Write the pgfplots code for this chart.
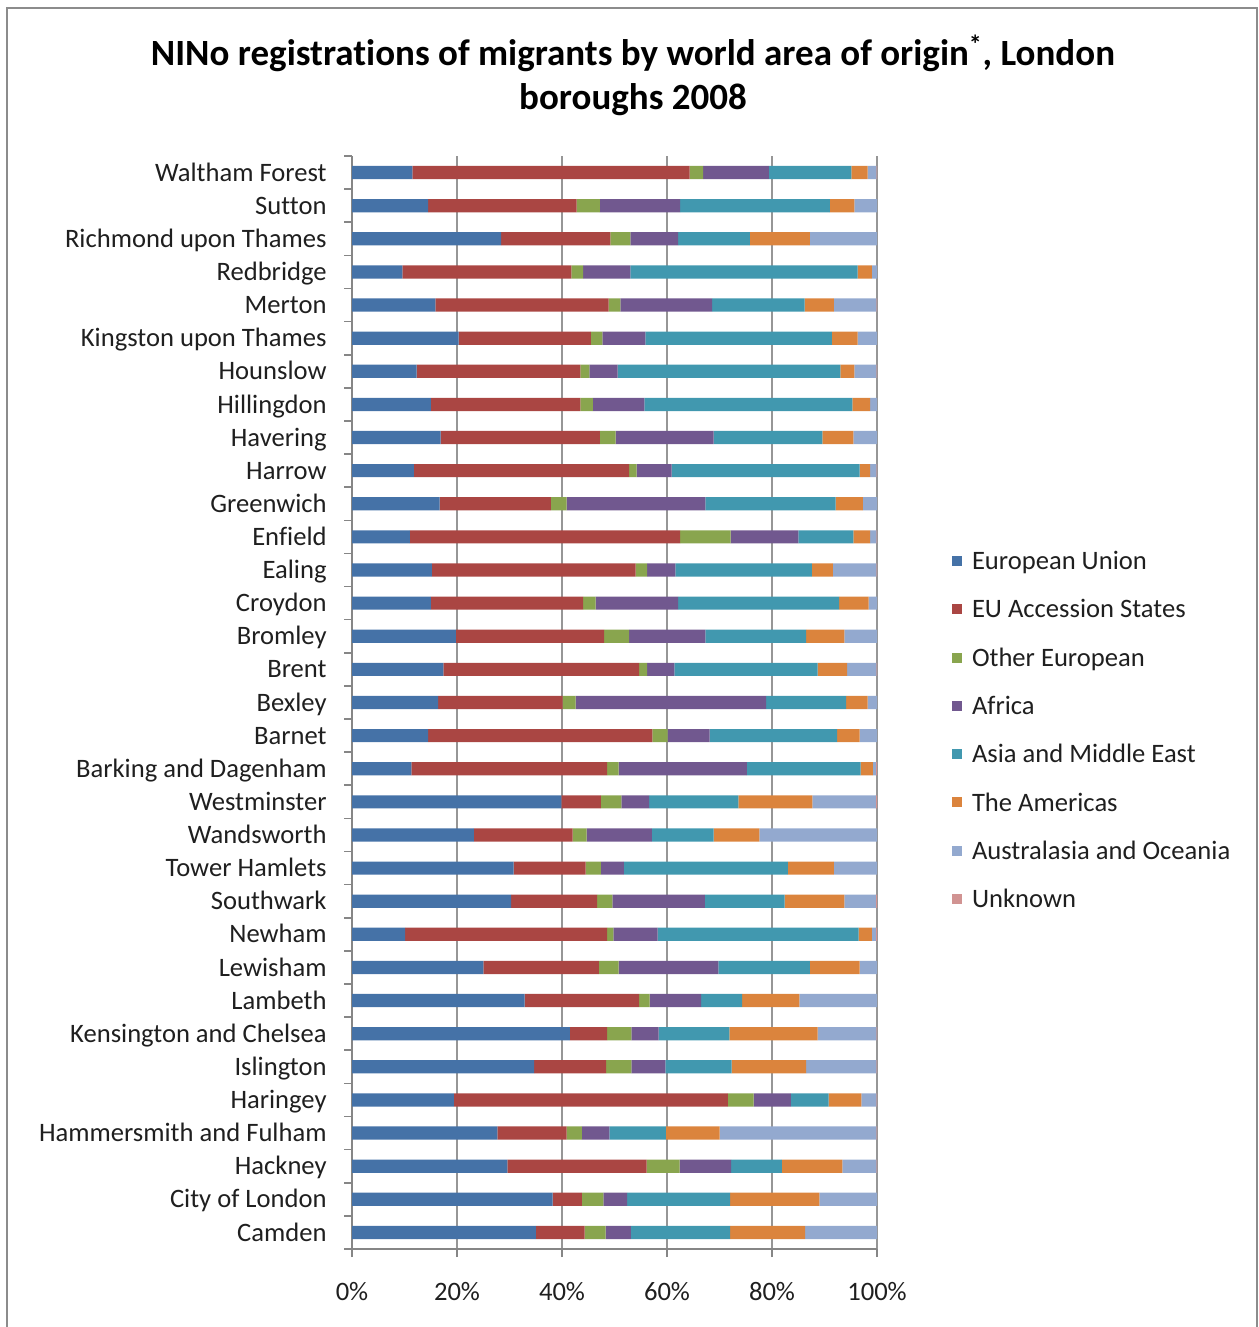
\documentclass[border=0pt]{standalone}
\usepackage{fontspec}
\setmainfont[Ligatures={NoCommon}]{Carlito}
\usepackage{pgfplots}
\usepackage{pgfplotstable}
\pgfplotsset{compat=1.18}
\definecolor{c1}{HTML}{4572A7}
\definecolor{c2}{HTML}{AA4643}
\definecolor{c3}{HTML}{89A54E}
\definecolor{c4}{HTML}{71588F}
\definecolor{c5}{HTML}{4198AF}
\definecolor{c6}{HTML}{DB843D}
\definecolor{c7}{HTML}{93A9CF}
\definecolor{c8}{HTML}{D19392}
\definecolor{gridc}{HTML}{969696}
\definecolor{axc}{HTML}{868686}
\definecolor{framec}{HTML}{8C8C8C}
\pgfplotsset{sqleg/.style={legend image code/.code={\fill[##1,draw=none] (0pt,-2.5pt) rectangle (5pt,2.5pt);}}}
\pgfplotstableread{
y eu acc oth afr asia amer aus unk
0 35.0 9.3 4.0 4.8 18.9 14.3 13.7 0
1 38.2 5.6 4.1 4.5 19.6 17.0 11.0 0
2 29.6 26.5 6.3 9.8 9.7 11.5 6.5 0.1
3 27.7 13.2 2.9 5.2 10.8 10.2 29.9 0.1
4 19.4 52.2 4.9 7.1 7.2 6.2 2.9 0.1
5 34.7 13.7 4.8 6.5 12.6 14.2 13.4 0.1
6 41.5 7.1 4.6 5.2 13.5 16.8 11.2 0.1
7 32.9 21.8 2.0 9.8 7.8 10.9 14.8 0
8 25.0 22.0 3.8 19.0 17.4 9.5 3.3 0
9 10.1 38.5 1.2 8.4 38.3 2.5 0.8 0.2
10 30.3 16.4 2.9 17.6 15.2 11.4 6.0 0.2
11 30.8 13.7 2.9 4.4 31.2 8.8 8.2 0
12 23.2 18.8 2.7 12.4 11.8 8.7 22.4 0
13 39.9 7.5 3.9 5.3 17.0 14.1 12.1 0.2
14 11.3 37.3 2.2 24.4 21.7 2.3 0.6 0.2
15 14.5 42.7 2.9 8.0 24.3 4.3 3.3 0
16 16.4 23.7 2.5 36.3 15.2 4.1 1.8 0
17 17.4 37.3 1.5 5.2 27.3 5.6 5.6 0.1
18 19.8 28.2 4.8 14.5 19.2 7.3 6.2 0
19 15.0 29.0 2.4 15.7 30.7 5.6 1.6 0
20 15.2 38.8 2.2 5.4 26.0 4.0 8.3 0.1
21 11.0 51.5 9.6 12.9 10.5 3.2 1.2 0.1
22 16.7 21.2 3.0 26.4 24.8 5.2 2.7 0
23 11.8 41.0 1.4 6.7 35.8 2.0 1.2 0.1
24 16.9 30.3 3.0 18.7 20.7 5.9 4.5 0
25 15.0 28.5 2.4 9.8 39.6 3.4 1.3 0
26 12.3 31.2 1.7 5.4 42.4 2.7 4.2 0.1
27 20.3 25.2 2.2 8.2 35.5 4.9 3.7 0
28 15.9 33.0 2.2 17.5 17.6 5.6 8.1 0.1
29 9.6 32.2 2.2 9.0 43.3 2.7 1.0 0
30 28.4 20.8 3.8 9.1 13.7 11.4 12.8 0
31 14.5 28.3 4.4 15.3 28.5 4.7 4.3 0
32 11.5 52.8 2.6 12.5 15.7 3.1 1.7 0.1
}\data
\begin{document}
\begin{tikzpicture}
\useasboundingbox (0,0) rectangle (629pt,663.5pt);
\draw[framec, line width=1pt] (3.5pt,-2pt) -- (3.5pt,659.5pt) -- (628.5pt,659.5pt) -- (628.5pt,-2pt);
\node[anchor=base, font=\bfseries\fontsize{18.5pt}{22pt}\selectfont] at (316.5pt,630.5pt) {NINo registrations of migrants by world area of origin\textsuperscript{*}, London};
\node[anchor=base, font=\bfseries\fontsize{18.5pt}{22pt}\selectfont] at (316.5pt,608.5pt) {boroughs 2008};
\begin{axis}[
  at={(176pt,39pt)}, anchor=south west,
  scale only axis, width=262.5pt, height=546.5pt,
  xbar stacked, bar width=6.6pt,
  xmin=0, xmax=100, ymin=-0.5, ymax=32.5,
  xtick={0,20,40,60,80,100},
  xticklabels={0\%,20\%,40\%,60\%,80\%,100\%},
  ytick={0,...,32},
  yticklabels={Camden, City of London, Hackney, Hammersmith and Fulham, Haringey, Islington, Kensington and Chelsea, Lambeth, Lewisham, Newham, Southwark, Tower Hamlets, Wandsworth, Westminster, Barking and Dagenham, Barnet, Bexley, Brent, Bromley, Croydon, Ealing, Enfield, Greenwich, Harrow, Havering, Hillingdon, Hounslow, Kingston upon Thames, Merton, Redbridge, Richmond upon Thames, Sutton, Waltham Forest},
  minor ytick={-0.5,0.5,...,32.5},
  tick align=outside,
  major tick length=4pt, minor tick length=4pt,
  major y tick style={draw=none},
  tick style={axc, line width=0.8pt},
  xmajorgrids, grid style={gridc, line width=0.7pt},
  separate axis lines,
  axis x line*=bottom, axis y line*=left,
  x axis line style={-, axc, line width=0.8pt},
  y axis line style={-, axc, line width=0.8pt},
  tick label style={font=\fontsize{13.3pt}{16pt}\selectfont, text=black!88},
  yticklabel style={inner sep=0pt, text height=10.6pt, text depth=2pt, anchor=east, xshift=-8.5pt},
  xticklabel style={inner sep=0pt, text height=8.6pt, text depth=0pt, anchor=north, yshift=-12.7pt},
  legend style={draw=none, fill=none, at={(1.14286,0.641)}, anchor=north west, inner sep=0pt, outer sep=0pt, row sep=11.55pt, column sep=5pt, font=\fontsize{13.3pt}{16pt}\selectfont, text=black!88, nodes={inner sep=0pt, text height=10.6pt, text depth=2pt}},
  legend cell align=left,
]
\addplot[fill=c1, draw=none, sqleg] table[x=eu, y=y] {\data};
\addplot[fill=c2, draw=none, sqleg] table[x=acc, y=y] {\data};
\addplot[fill=c3, draw=none, sqleg] table[x=oth, y=y] {\data};
\addplot[fill=c4, draw=none, sqleg] table[x=afr, y=y] {\data};
\addplot[fill=c5, draw=none, sqleg] table[x=asia, y=y] {\data};
\addplot[fill=c6, draw=none, sqleg] table[x=amer, y=y] {\data};
\addplot[fill=c7, draw=none, sqleg] table[x=aus, y=y] {\data};
\addplot[fill=c8, draw=none, sqleg] table[x=unk, y=y] {\data};
\legend{European Union, EU Accession States, Other European, Africa, Asia and Middle East, The Americas, Australasia and Oceania, Unknown}
\end{axis}
\end{tikzpicture}
\end{document}
